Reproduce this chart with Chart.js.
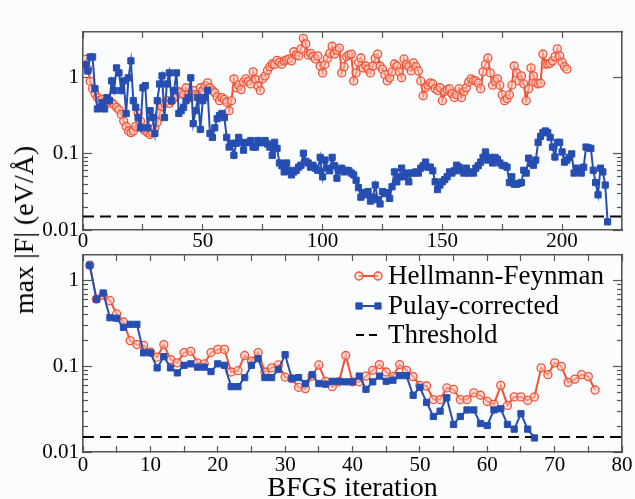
<!DOCTYPE html>
<html>
<head>
<meta charset="utf-8">
<script src="https://cdn.jsdelivr.net/npm/chart.js@4.4.0/dist/chart.umd.min.js"></script>
<style>
  html, body { margin: 0; padding: 0; background: #fafcfe; }
  #wrap { position: relative; width: 635px; height: 499px; }
  canvas { position: absolute; left: 0; top: 0; }
  #ytitle {
    position: absolute; left: 24px; top: 230px;
    transform: translate(-50%, -50%) rotate(-90deg);
    font: 28px "Liberation Serif", serif; white-space: nowrap; color: #000;
  }
</style>
</head>
<body>
<div id="wrap">
  <canvas id="topChart" width="635" height="499"></canvas>
  <canvas id="botChart" width="635" height="499"></canvas>
  <div id="ytitle">max |F| (eV/Å)</div>
</div>
<script>
// upper panel: full run, iterations 1..n
const topHF = [1.75,1.3,0.9,0.72,0.62,0.55,0.5,0.52,0.48,0.46,
  0.5,0.47,0.44,0.41,0.38,0.33,0.27,0.23,0.2,0.19,
  0.2,0.23,0.34,0.27,0.22,0.2,0.19,0.18,0.19,0.22,
  0.26,0.34,0.42,0.47,0.5,0.46,0.5,0.54,0.58,0.66,
  0.64,0.6,0.74,0.6,0.55,0.68,0.6,0.58,0.74,0.68,
  0.78,0.86,0.74,0.68,0.64,0.56,0.5,0.55,0.52,0.48,
  0.37,0.5,0.97,0.74,0.8,0.7,0.88,0.97,0.9,0.83,
  1.2,0.95,0.78,0.68,0.97,1.06,1.25,1.4,1.52,1.5,
  1.7,1.6,1.5,1.67,1.72,1.77,1.67,2.2,2.0,1.94,
  2.4,3.3,2.8,2.0,2.1,1.9,1.77,1.94,1.43,1.16,
  1.5,1.8,2.1,2.6,2.05,2.3,2.46,1.16,1.4,1.9,
  2.0,2.05,0.91,1.16,1.6,1.82,1.35,1.43,1.3,1.16,
  1.43,1.8,2.05,1.43,1.3,1.1,0.91,1.0,1.2,1.52,
  1.43,1.2,1.0,1.77,1.5,1.4,1.23,1.57,1.4,1.23,
  0.91,0.58,0.74,0.8,0.86,0.83,0.72,0.68,0.74,0.5,
  0.66,0.7,0.72,0.62,0.55,0.6,0.72,0.55,0.66,0.74,
  0.88,0.97,0.92,0.91,0.85,0.72,1.2,1.5,1.82,1.16,
  0.8,0.9,0.97,0.8,0.6,0.5,0.53,0.6,0.8,1.43,
  1.16,0.91,1.06,0.83,0.5,0.72,1.35,1.06,0.86,0.83,
  0.85,2.05,1.52,1.52,1.55,1.67,1.9,2.4,1.94,1.6,
  1.4,1.3];
const topPulay = [1.5,1.23,1.88,1.88,0.72,0.39,0.41,0.47,0.39,0.55,
  0.5,0.91,0.68,1.35,1.16,0.68,0.91,0.34,1.0,1.67,
  0.5,0.41,0.3,0.22,0.74,0.79,0.22,0.37,0.3,0.186,
  0.5,0.83,1.06,0.3,0.83,1.16,0.5,0.68,1.16,0.34,
  0.37,0.41,0.5,0.55,1.0,0.25,0.37,0.55,0.21,0.5,
  0.55,0.68,0.186,0.165,0.22,0.29,0.32,0.34,0.3,0.165,
  0.123,0.138,0.096,0.138,0.165,0.142,0.112,0.14,0.142,0.15,
  0.123,0.123,0.15,0.14,0.142,0.15,0.135,0.123,0.096,0.142,
  0.118,0.076,0.07,0.058,0.076,0.061,0.053,0.058,0.061,0.067,
  0.071,0.102,0.08,0.076,0.067,0.071,0.065,0.061,0.09,0.05,
  0.083,0.065,0.06,0.09,0.07,0.048,0.06,0.065,0.058,0.061,
  0.06,0.056,0.053,0.045,0.036,0.027,0.031,0.029,0.032,0.024,
  0.027,0.039,0.025,0.022,0.032,0.03,0.031,0.026,0.037,0.058,
  0.043,0.05,0.065,0.05,0.056,0.043,0.056,0.056,0.058,0.056,
  0.065,0.07,0.078,0.067,0.067,0.06,0.043,0.034,0.039,0.043,
  0.046,0.05,0.058,0.056,0.06,0.071,0.067,0.06,0.056,0.065,
  0.056,0.058,0.056,0.065,0.07,0.078,0.09,0.106,0.083,0.09,
  0.076,0.09,0.085,0.076,0.071,0.07,0.067,0.042,0.05,0.04,
  0.04,0.041,0.042,0.061,0.056,0.088,0.075,0.071,0.083,0.142,
  0.17,0.19,0.2,0.19,0.165,0.123,0.091,0.142,0.142,0.106,
  0.078,0.083,0.09,0.1,0.056,0.065,0.06,0.056,0.067,0.123,
  0.12,0.118,0.061,0.042,0.029,0.065,0.058,0.039,0.0128];

// lower panel
const botHF = [1.52,0.61,0.68,0.585,0.41,0.33,0.2,0.18,0.176,0.147,
  0.128,0.18,0.12,0.11,0.145,0.15,0.11,0.107,0.145,0.158,
  0.158,0.086,0.089,0.134,0.115,0.145,0.086,0.096,0.104,0.075,
  0.072,0.057,0.055,0.077,0.104,0.067,0.058,0.066,0.134,0.066,
  0.066,0.077,0.09,0.105,0.086,0.076,0.105,0.09,0.076,0.06,
  0.059,0.041,0.041,0.056,0.054,0.041,0.041,0.049,0.046,0.039,
  0.036,0.06,0.035,0.044,0.044,0.04,0.044,0.096,0.08,0.11,
  0.1,0.065,0.071,0.08,0.076,0.053];
const botPulay = [1.52,0.61,0.72,0.37,0.365,0.286,0.31,0.31,0.144,0.144,
  0.096,0.13,0.096,0.084,0.103,0.107,0.098,0.098,0.087,0.107,
  0.103,0.058,0.058,0.074,0.103,0.123,0.074,0.074,0.092,0.137,
  0.072,0.074,0.063,0.08,0.063,0.062,0.067,0.067,0.066,0.066,
  0.077,0.054,0.066,0.077,0.067,0.069,0.078,0.078,0.046,0.057,
  0.038,0.026,0.03,0.043,0.021,0.026,0.031,0.031,0.0215,0.0204,
  0.031,0.032,0.021,0.0185,0.028,0.0185,0.0146];

const threshold = 0.015;

// axes
const topXRange = [0, 225];
const botXRange = [0, 80];
const topYRange = [0.01, 4];
const botYRange = [0.01, 2];
const topXTicks = [0, 25, 50, 75, 100, 125, 150, 175, 200];
const topXLabels = [0, 50, 100, 150, 200];
const botXTicks = [0, 5, 10, 15, 20, 25, 30, 35, 40, 45, 50, 55, 60, 65, 70, 75, 80];
const botXLabels = [0, 10, 20, 30, 40, 50, 60, 70, 80];
const yMajor = [0.01, 0.1, 1];
const topYMinor = [0.02, 0.03, 0.04, 0.05, 0.06, 0.07, 0.08, 0.09];
const botYMinor = [0.02, 0.03, 0.04, 0.05, 0.06, 0.07, 0.08, 0.09,
                   0.2, 0.3, 0.4, 0.5, 0.6, 0.7, 0.8, 0.9];

const RED = 'rgb(240,82,52)';
const BLUE = 'rgb(38,78,178)';
const AXIS = '#555';
const FONT = '"Liberation Serif", "Times New Roman", serif';

const toXY = arr => arr.map((v, k) => ({ x: k + 1, y: v }));
const setTicks = vals => s => { s.ticks = vals.map(v => ({ value: v })); };

// legend inside lower panel
const legendBox = {
  id: 'legendBox',
  afterDraw(chart) {
    const ctx = chart.ctx;
    const x0 = 359, x1 = 378, textX = 388, baselines = [284, 314, 343];
    ctx.save();
    ctx.font = '27px ' + FONT;
    ctx.textBaseline = 'alphabetic';
    chart.data.datasets.forEach((ds, k) => {
      const base = baselines[k];
      const cy = base - 8;
      const dashed = !!ds.borderDash;
      ctx.strokeStyle = ds.borderColor;
      ctx.lineWidth = 2;
      ctx.setLineDash(dashed ? [8, 5] : []);
      ctx.beginPath();
      ctx.moveTo(dashed ? 356 : x0, cy); ctx.lineTo(dashed ? 382 : x1, cy);
      ctx.stroke();
      ctx.setLineDash([]);
      if (!dashed) {
        [x0, x1].forEach(px => {
          ctx.fillStyle = ds.pointBackgroundColor;
          ctx.strokeStyle = ds.pointBorderColor;
          ctx.lineWidth = ds.pointBorderWidth;
          Chart.helpers.drawPoint(ctx, { pointStyle: ds.pointStyle, radius: ds.pointRadius, borderWidth: ds.pointBorderWidth }, px, cy);
        });
      }
      ctx.fillStyle = '#000';
      ctx.fillText(ds.label, textX, base);
    });
    ctx.restore();
  }
};

function datasets(hf, pulay, xr) {
  return [
    { label: 'Hellmann-Feynman', data: toXY(hf), borderColor: RED, borderWidth: 2,
      pointStyle: 'circle', pointRadius: 4, pointBorderWidth: 1.3,
      pointBorderColor: RED, pointBackgroundColor: 'rgba(255,200,190,0.55)', order: 1 },
    { label: 'Pulay-corrected', data: toXY(pulay), borderColor: BLUE, borderWidth: 2,
      pointStyle: 'rect', pointRadius: 4.4, pointBorderWidth: 1,
      pointBorderColor: BLUE, pointBackgroundColor: BLUE, order: 0 },
    { label: 'Threshold', data: [{ x: xr[0], y: threshold }, { x: xr[1], y: threshold }],
      borderColor: '#000', borderWidth: 2, borderDash: [11, 6], pointRadius: 0, order: 2 }
  ];
}

// inward tick marks: negative tick length
const grid = len => ({ display: true, drawOnChartArea: false, drawTicks: true,
                       tickLength: -len, tickColor: AXIS, tickWidth: 1.2 });
const border = on => ({ display: on, color: AXIS, width: 1.6 });

function scales(xr, yr, xTicks, xLabels, yMin, xH, xTitle) {
  const tickFont = { family: FONT, size: 21 };
  return {
    x: {
      type: 'linear', min: xr[0], max: xr[1], position: 'bottom',
      afterBuildTicks: setTicks(xTicks),
      // fixed height; labels may overhang the plot edges without shrinking it
      afterFit: s => { s.height = xH; s.paddingLeft = 0; s.paddingRight = 0; },
      grid: grid(6), border: border(true),
      ticks: { color: '#000', font: tickFont, padding: xTitle ? 7 : 5,
               maxRotation: 0, autoSkip: false,
               callback: v => xLabels.includes(v) ? String(v) : '' },
      title: xTitle ? { display: true, text: xTitle, color: '#000',
               font: { family: FONT, size: 28 }, padding: { top: 0, bottom: -6 } } : { display: false }
    },
    xTop: {
      type: 'linear', axis: 'x', min: xr[0], max: xr[1], position: 'top',
      afterBuildTicks: setTicks(xTicks), afterFit: s => { s.height = 0; },
      grid: grid(6), border: border(true), ticks: { display: false }
    },
    y: {
      type: 'logarithmic', min: yr[0], max: yr[1], position: 'left', weight: 1,
      afterBuildTicks: setTicks(yMajor),
      afterFit: s => { s.width = 83; s.paddingTop = 0; s.paddingBottom = 0; },
      grid: grid(9), border: border(true),
      ticks: { color: '#000', font: tickFont, padding: 13, autoSkip: false,
               callback: v => String(v) }
    },
    yMinor: {
      type: 'logarithmic', axis: 'y', min: yr[0], max: yr[1], position: 'left', weight: 0,
      afterBuildTicks: setTicks(yMin), afterFit: s => { s.width = 0; },
      grid: grid(5), border: border(false), ticks: { display: false }
    },
    yRight: {
      type: 'logarithmic', axis: 'y', min: yr[0], max: yr[1], position: 'right', weight: 1,
      afterBuildTicks: setTicks(yMajor), afterFit: s => { s.width = 0; },
      grid: grid(9), border: border(true), ticks: { display: false }
    },
    yRightMinor: {
      type: 'logarithmic', axis: 'y', min: yr[0], max: yr[1], position: 'right', weight: 0,
      afterBuildTicks: setTicks(yMin), afterFit: s => { s.width = 0; },
      grid: grid(5), border: border(false), ticks: { display: false }
    }
  };
}

function options(sc, pad) {
  return {
    responsive: false, animation: false, devicePixelRatio: 1,
    layout: { padding: pad },
    plugins: { legend: { display: false }, tooltip: { enabled: false } },
    scales: sc
  };
}

new Chart(document.getElementById('topChart'), {
  type: 'line',
  data: { datasets: datasets(topHF, topPulay, topXRange) },
  options: options(scales(topXRange, topYRange, topXTicks, topXLabels, topYMinor, 20, null),
                   { top: 32, right: 13, bottom: 249, left: 0 })
});

new Chart(document.getElementById('botChart'), {
  type: 'line',
  data: { datasets: datasets(botHF, botPulay, botXRange) },
  options: options(scales(botXRange, botYRange, botXTicks, botXLabels, botYMinor, 47, 'BFGS iteration'),
                   { top: 255, right: 13, bottom: 0, left: 0 }),
  plugins: [legendBox]
});
</script>
</body>
</html>
